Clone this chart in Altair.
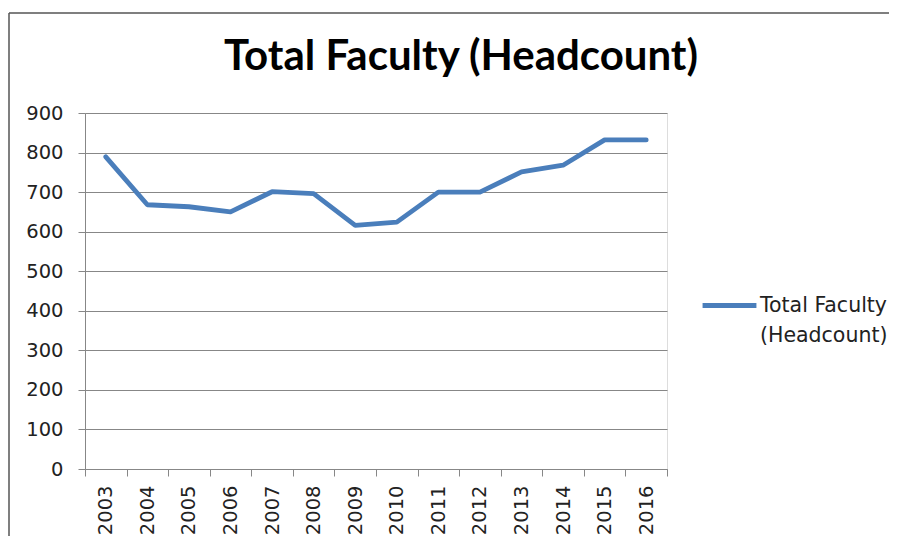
import altair as alt
import pandas as pd

years = ["2003", "2004", "2005", "2006", "2007", "2008", "2009",
         "2010", "2011", "2012", "2013", "2014", "2015", "2016"]
headcount = [789, 668, 663, 650, 701, 696, 616, 624, 700, 700, 751, 768, 832, 832]
series_name = "Total Faculty (Headcount)"
y_ticks = [0, 100, 200, 300, 400, 500, 600, 700, 800, 900]

df = pd.DataFrame({"year": years, "value": headcount, "series": series_name})
title_df = pd.DataFrame({"title": [series_name]})

font_axis = "DejaVu Sans"
grey = "#878787"

line = alt.Chart(df).mark_line(strokeWidth=4.8, strokeCap="round", strokeJoin="round").encode(
    x=alt.X("year:O", sort=years,
            scale=alt.Scale(type="band", paddingInner=0, paddingOuter=0),
            axis=alt.Axis(title=None, labelAngle=-90, tickBand="extent",
                          domainColor=grey, tickColor=grey, tickSize=7,
                          labelPadding=9, labelFont=font_axis, labelFontSize=19.5,
                          labelColor="#222222", grid=False)),
    y=alt.Y("value:Q", scale=alt.Scale(domain=[0, 900], nice=False),
            axis=alt.Axis(title=None, values=y_ticks, domainColor=grey, tickColor=grey,
                          tickSize=7, labelPadding=15, labelFont=font_axis,
                          labelFontSize=19.5, labelColor="#222222",
                          grid=True, gridColor=grey, gridWidth=1)),
    color=alt.Color("series:N", scale=alt.Scale(range=["#4A7EBB"]),
                    legend=alt.Legend(title=None, orient="none", legendX=615, legendY=163,
                                      symbolType="stroke", symbolSize=2900,
                                      symbolStrokeWidth=4.8, labelOffset=1,
                                      labelFont=font_axis, labelFontSize=20.5,
                                      labelColor="#222222", labelBaseline="middle",
                                      labelLimit=300,
                                      labelExpr="['Total Faculty', '(Headcount)']")),
)

title = alt.Chart(title_df).mark_text(
    font="Lato", fontSize=42, fontWeight="bold", color="#000000",
    align="center", baseline="alphabetic",
).encode(text="title:N", x=alt.value(376), y=alt.value(-43))

border_top = alt.Chart(title_df).mark_rule(color="#555555", strokeWidth=1.5).encode(
    x=alt.value(-76), x2=alt.value(900), y=alt.value(-100))
border_left = alt.Chart(title_df).mark_rule(color="#555555", strokeWidth=1.5).encode(
    x=alt.value(-76), y=alt.value(-100), y2=alt.value(500))

chart = alt.layer(border_top, border_left, title, line).properties(
    width=582, height=356,
    autosize=alt.AutoSizeParams(type="none"),
    padding={"left": 77, "top": 105, "right": 222, "bottom": 67},
).configure_view(stroke=None).configure(
    background="white",
    style={"guide-label": {"lineHeight": 30}},
)

chart.save("out.html", embed_options={"renderer": "svg", "actions": False})
